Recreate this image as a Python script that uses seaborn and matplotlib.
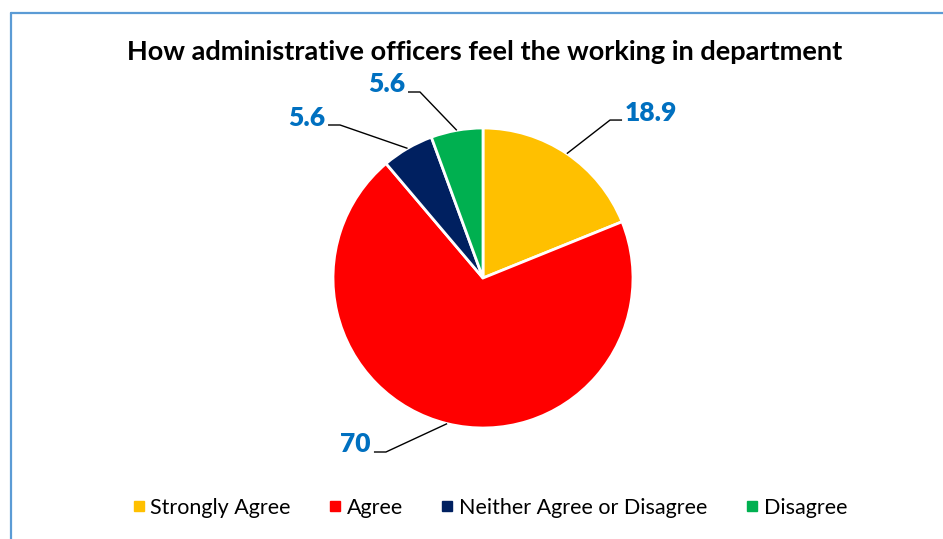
import numpy as np
import matplotlib
matplotlib.use("Agg")
import matplotlib.pyplot as plt
from matplotlib.lines import Line2D
import seaborn as sns

categories = ["Strongly Agree", "Agree", "Neither Agree or Disagree", "Disagree"]
values = [18.9, 70, 5.6, 5.6]
value_labels = ["18.9", "70", "5.6", "5.6"]
colors = ["#FFC000", "#FF0000", "#002060", "#00B050"]

sns.set_theme(style="white")
plt.rcParams["font.family"] = ["Lato", "DejaVu Sans"]
plt.rcParams["text.color"] = "black"

W, H = 943, 539
fig = plt.figure(figsize=(W / 100, H / 100), dpi=100)
fig.patch.set_facecolor("white")

cx, cy, R = 483, 278, 150
ax = fig.add_axes([(cx - R) / W, (H - cy - R) / H, 2 * R / W, 2 * R / H])
wedges, _ = ax.pie(values, colors=colors, startangle=90, counterclock=False,
                   radius=1, wedgeprops=dict(edgecolor="white", linewidth=2.0))
ax.set_xlim(-1, 1)
ax.set_ylim(-1, 1)
ax.set_aspect("auto")
ax.axis("off")

# leader line styling: elbow (data units) per slice
elbows = [(0.847, 1.053), (-0.647, -1.16), (-0.953, 1.02), (-0.42, 1.24)]
seg = 0.08
for w, lab, (ex, ey) in zip(wedges, value_labels, elbows):
    ang = np.deg2rad((w.theta1 + w.theta2) / 2)
    px, py = np.cos(ang), np.sin(ang)
    d = 1 if ex > px else -1
    hx = ex + d * seg
    ax.plot([px, ex, hx], [py, ey, ey], color="black", lw=1.0,
            clip_on=False, solid_capstyle="butt")
    ax.text(hx + d * 0.02, ey + 0.05, lab, ha="left" if d > 0 else "right",
            va="center", fontsize=19, fontweight="heavy", color="#0070C0",
            clip_on=False)

fig.text(485 / W, 1 - 52 / H,
         "How administrative officers feel the working in department",
         ha="center", va="center", fontsize=19.5, fontweight="bold",
         color="black")

handles = [Line2D([], [], marker="s", linestyle="none", markersize=7,
                  markerfacecolor=c, markeredgecolor=c) for c in colors]
leg = fig.legend(handles, categories, loc="center", ncol=4,
                 bbox_to_anchor=(488 / W, 1 - 508 / H), frameon=False,
                 fontsize=15.5, handletextpad=0.1, columnspacing=1.6,
                 handlelength=0.9)
for t in leg.get_texts():
    t.set_color("black")

# outer chart border (top and left visible)
bx, by = 10.5 / W, 1 - 13 / H
fig.add_artist(Line2D([bx, 1.0], [by, by], color="#5B9BD5", lw=1.6,
                      transform=fig.transFigure))
fig.add_artist(Line2D([bx, bx], [0, by], color="#5B9BD5", lw=1.6,
                      transform=fig.transFigure))

fig.savefig("out.png", dpi=100, facecolor="white")
